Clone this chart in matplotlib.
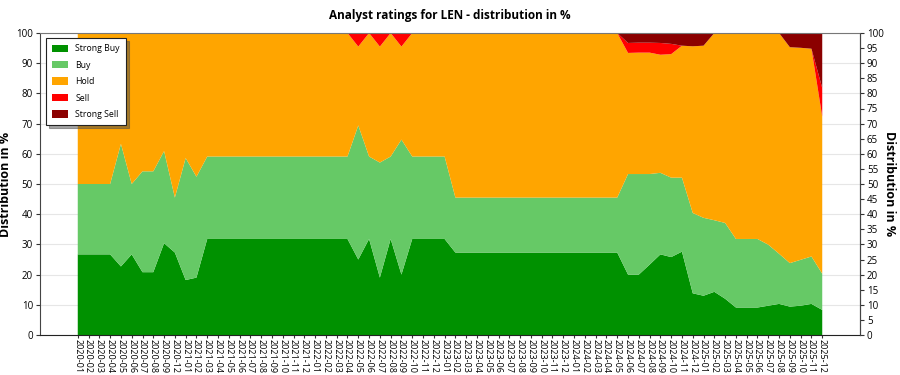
import matplotlib
matplotlib.use("Agg")
import matplotlib.pyplot as plt
import numpy as np

plt.rcParams['font.family'] = ['Open Sans', 'DejaVu Sans']

months = (["2020-%02d" % m for m in range(1, 10)] + ["2020-12"] +
          ["%d-%02d" % (y, m) for y in range(2021, 2026) for m in range(1, 13)])

strong_buy = [26.7, 26.7, 26.7, 26.7, 22.7, 26.7, 20.8, 20.8, 30.4, 27.3,
              18.2, 19.0] + [31.8] * 14 + [25.0, 31.8, 19.0, 31.8, 20.0,
              31.8, 31.8, 31.8, 31.8] + [27.3] * 16 + [
              20.0, 20.0, 23.3, 26.7, 25.8, 27.6, 13.8, 13.0, 14.3, 12.0,
              9.1, 9.1, 9.1, 9.7, 10.3, 9.4, 9.7, 10.3, 8.3]
buy = [23.3, 23.3, 23.3, 23.3, 40.6, 23.3, 33.4, 33.4, 30.5, 18.2,
       40.4, 33.4] + [27.3] * 14 + [44.4, 27.3, 38.1, 27.3, 44.7,
       27.3, 27.3, 27.3, 27.3] + [18.2] * 16 + [
       33.3, 33.3, 30.0, 27.0, 26.3, 24.5, 26.6, 25.8, 23.7, 25.1,
       22.7, 22.7, 22.7, 20.2, 16.6, 14.4, 15.2, 15.7, 12.0]
hold = [50.0, 50.0, 50.0, 50.0, 36.7, 50.0, 45.8, 45.8, 39.1, 54.5,
        41.4, 47.6] + [40.9] * 14 + [26.1, 40.9, 38.4, 40.9, 30.8,
        40.9, 40.9, 40.9, 40.9] + [54.5] * 16 + [
        40.1, 40.2, 40.2, 39.1, 40.9, 43.7, 55.2, 57.0, 62.0, 62.9,
        68.2, 68.2, 68.2, 70.1, 73.1, 71.5, 70.2, 68.8, 52.0]
sell = [0] * 26 + [4.5, 0, 4.5, 0, 4.5] + [0] * 20 + [
        3.3, 3.3, 3.3, 3.9, 3.4, 0, 0, 0, 0, 0,
        0, 0, 0, 0, 0, 0, 0, 0, 9.5]
strong_sell = [0] * 51 + [
        3.3, 3.2, 3.2, 3.3, 3.6, 4.2, 4.4, 4.2, 0, 0,
        0, 0, 0, 0, 0, 4.7, 4.9, 5.2, 18.2]

labels = ["Strong Buy", "Buy", "Hold", "Sell", "Strong Sell"]
colors = ["#009100", "#66C966", "#FFA500", "#FF0000", "#8B0000"]

x = np.arange(len(months))

fig = plt.figure(figsize=(9, 3.75), dpi=100)
ax = fig.add_axes([40/900, 1 - 335/375, 820/900, 302/375])

ax.stackplot(x, strong_buy, buy, hold, sell, strong_sell,
             labels=labels, colors=colors, linewidth=0, zorder=2)

ax.set_xlim(-3.5, len(months) - 1 + 3.5)
ax.set_ylim(0, 100)
ax.set_yticks(np.arange(0, 101, 10))
ax.tick_params(axis='y', labelsize=7, length=3, color='#333333', pad=2)
ax.yaxis.grid(True, color='#e6e6e6', linewidth=0.8, zorder=0)
ax.set_axisbelow(True)

ax.set_xticks(x)
ax.set_xticklabels(months, rotation=-90, fontsize=6.5)
ax.tick_params(axis='x', length=2, pad=1, color='#333333')

for s in ['left', 'right']:
    ax.spines[s].set_linestyle((0, (1, 1)))
    ax.spines[s].set_color('#444444')
ax.spines['top'].set_color('#777777')
ax.spines['bottom'].set_color('#222222')

ax.set_ylabel("Distribution in %", fontsize=9, fontweight='bold')
ax.yaxis.set_label_coords(-0.034, 0.5)

ax2 = ax.twinx()
ax2.set_ylim(0, 100)
ax2.set_yticks(np.arange(0, 101, 5))
ax2.tick_params(axis='y', labelsize=7, length=3, color='#333333', pad=2)
ax2.spines['right'].set_linestyle((0, (1, 1)))
ax2.spines['right'].set_color('#444444')
ax2.spines['left'].set_visible(False)
ax2.spines['top'].set_visible(False)
ax2.spines['bottom'].set_visible(False)
ax2.set_ylabel("Distribution in %", fontsize=9, fontweight='bold',
               rotation=270, va='center')
ax2.yaxis.set_label_coords(1.036, 0.5)

fig.suptitle("Analyst ratings for LEN - distribution in %", fontsize=8.5,
             fontweight='bold', y=0.975)

leg = ax.legend(loc='upper left', fontsize=6.3, frameon=True, fancybox=False,
                shadow=True, edgecolor='#222222', borderpad=0.7,
                labelspacing=0.85, handlelength=1.9, handleheight=0.9,
                borderaxespad=0, bbox_to_anchor=(0.007, 0.983))
leg.get_frame().set_linewidth(0.8)
leg.set_zorder(5)

fig.savefig("out.png", dpi=100)
